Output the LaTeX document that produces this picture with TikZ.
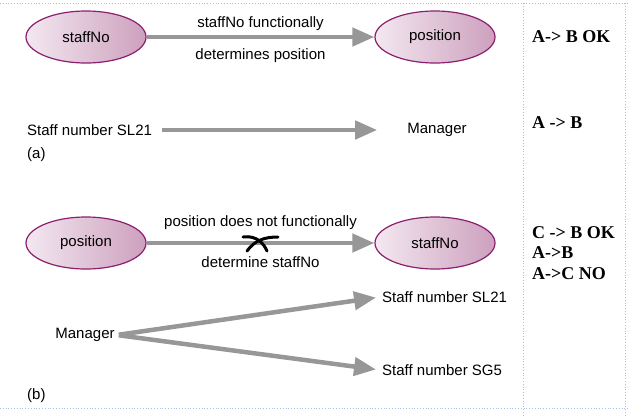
\documentclass[tikz,border=0pt]{standalone}
\usepackage{fontspec}
\setmainfont{Liberation Sans}
\newfontfamily\notefont{Liberation Serif}
\usepackage{tikz}
\usetikzlibrary{arrows.meta, shapes.geometric}

\definecolor{arrowgray}{HTML}{979797}
\definecolor{ovalline}{HTML}{8B1E6E}
\definecolor{ovalleft}{HTML}{F3E8F0}
\definecolor{ovalright}{HTML}{CDA0BE}
\definecolor{gridblue}{HTML}{A6BFE8}

\begin{document}
\begin{tikzpicture}[x=1pt, y=-1pt, inner sep=2pt,
	oval/.style={ellipse, draw=ovalline, line width=1.2pt, left color=ovalleft, right color=ovalright, minimum width=120pt, minimum height=52pt, font=\fontsize{15}{17}\selectfont},
	txt/.style={font=\fontsize{15}{17}\selectfont},
	note/.style={anchor=west, align=left, font=\notefont\bfseries\fontsize{18}{20.5}\selectfont},
	fd/.style={-{Triangle[length=22pt, width=18pt]}, line width=4.5pt, draw=arrowgray},
	gridline/.style={draw=gridblue, dotted, line width=0.8pt}]
			\useasboundingbox (0,0) rectangle (628,416);

			\draw[gridline] (0,3) -- (628,3);
			\draw[gridline] (0,408) -- (628,408);
			\draw[gridline] (523,3) -- (523,416);
			\draw[gridline] (625,3) -- (625,416);

			\node[oval](staffA) at (86,37) {staffNo};
			\node[oval](posA) at (435,37) {position};
			\draw[fd](staffA) -- node[txt, above=2pt]{staffNo functionally} node[txt, below=7pt]{determines position} (posA);

			\node[txt, anchor=west](slA) at (25,130) {Staff number SL21};
			\node[txt](mgrA) at (437,130) {Manager};
			\node[txt, anchor=west](labA) at (25,155) {(a)};
			\draw[fd, shorten <=8pt, shorten >=28pt](slA) -- (mgrA);

			\node[oval](posB) at (86,243) {position};
			\node[oval](staffB) at (435,243) {staffNo};
			\draw[fd](posB) -- node[txt, above=9pt]{position does not functionally} node[txt, below=9pt]{determine staffNo} (staffB);
			\draw[line width=3pt, line cap=round] (243,237) .. controls (257,235) and (264,244) .. (267,251);
			\draw[line width=3pt, line cap=round] (247,251) .. controls (255,240) and (265,237) .. (278,237);

			\node[txt](mgrB) at (85,335) {Manager};
			\node[txt, anchor=west](slB) at (380,297) {Staff number SL21};
			\node[txt, anchor=west](sgB) at (380,370) {Staff number SG5};
			\node[txt, anchor=west](labB) at (25,396) {(b)};
			\draw[fd, shorten <=2pt, shorten >=4pt](mgrB.east) -- (slB.west);
			\draw[fd, shorten <=2pt, shorten >=4pt](mgrB.east) -- (sgB.west);

			\node[note](noteA) at (530,37) {A-> B OK};
			\node[note](noteB) at (530,123) {A -> B};
			\node[note](noteC) at (530,253) {C -> B OK\\A->B\\A->C NO};
		\end{tikzpicture}
\end{document}
